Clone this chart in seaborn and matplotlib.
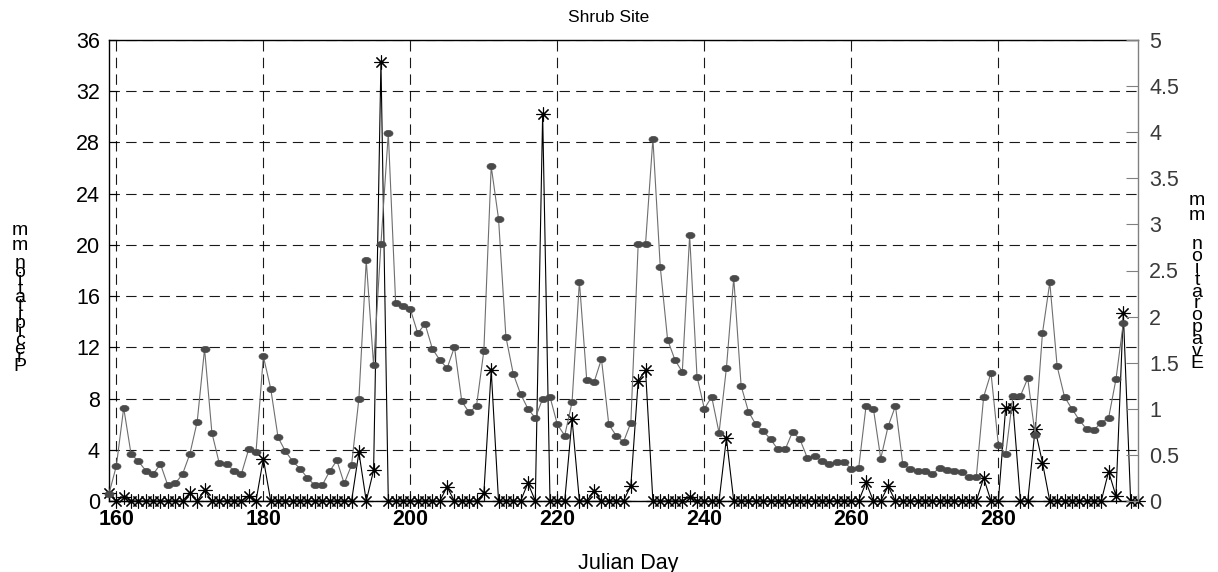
import matplotlib
matplotlib.use("Agg")
import matplotlib.pyplot as plt
import seaborn as sns
from matplotlib.path import Path
from matplotlib.transforms import Affine2D

# ---- data -------------------------------------------------------------
precip_days = list(range(159, 300))
precip_mm = [
    0.6, 0.0, 0.35, 0, 0, 0, 0, 0, 0, 0, 0,      # 159-169
    0.65, 0, 0.85, 0, 0, 0, 0, 0, 0.4, 0,        # 170-179
    3.3, 0, 0, 0, 0, 0, 0, 0, 0, 0,              # 180-189
    0, 0, 0, 3.8, 0, 2.4, 34.3, 0, 0, 0,         # 190-199
    0, 0, 0, 0, 0, 1.1, 0, 0, 0, 0,              # 200-209
    0.6, 10.2, 0, 0, 0, 0, 1.4, 0, 30.2, 0,      # 210-219
    0, 0, 6.4, 0, 0, 0.8, 0, 0, 0, 0,            # 220-229
    1.2, 9.4, 10.2, 0, 0, 0, 0, 0, 0.3, 0,       # 230-239
    0, 0, 0, 4.9, 0, 0, 0, 0, 0, 0,              # 240-249
    0, 0, 0, 0, 0, 0, 0, 0, 0, 0,                # 250-259
    0, 0, 1.45, 0, 0, 1.15, 0, 0, 0, 0,          # 260-269
    0, 0, 0, 0, 0, 0, 0, 0, 1.8, 0,              # 270-279
    0, 7.3, 7.3, 0, 0, 5.6, 3.0, 0, 0, 0,        # 280-289
    0, 0, 0, 0, 0, 2.3, 0.4, 14.7, 0, 0,         # 290-299
]

evap_days = list(range(159, 298))
evap_mm = [
    0.08, 0.38, 1.01, 0.51, 0.43, 0.33, 0.29, 0.40, 0.17, 0.19, 0.29,  # 159-169
    0.51, 0.86, 1.65, 0.74, 0.41, 0.40, 0.33, 0.29, 0.56, 0.53,        # 170-179
    1.57, 1.22, 0.69, 0.54, 0.43, 0.35, 0.25, 0.17, 0.17, 0.32,        # 180-189
    0.44, 0.19, 0.39, 1.11, 2.61, 1.47, 2.79, 3.99, 2.15, 2.11,        # 190-199
    2.08, 1.82, 1.92, 1.65, 1.53, 1.44, 1.67, 1.08, 0.96, 1.03,        # 200-209
    1.63, 3.63, 3.06, 1.78, 1.38, 1.16, 1.00, 0.90, 1.11, 1.13,        # 210-219
    0.83, 0.71, 1.07, 2.38, 1.31, 1.29, 1.54, 0.83, 0.71, 0.64,        # 220-229
    0.85, 2.79, 2.79, 3.93, 2.54, 1.75, 1.53, 1.40, 2.88, 1.35,        # 230-239
    1.00, 1.13, 0.74, 1.44, 2.42, 1.25, 0.97, 0.83, 0.76, 0.67,        # 240-249
    0.56, 0.56, 0.75, 0.67, 0.47, 0.49, 0.43, 0.40, 0.42, 0.42,        # 250-259
    0.35, 0.36, 1.03, 1.00, 0.46, 0.81, 1.03, 0.40, 0.35, 0.33,        # 260-269
    0.33, 0.29, 0.36, 0.34, 0.33, 0.31, 0.26, 0.26, 1.13, 1.39,        # 270-279
    0.61, 0.51, 1.14, 1.14, 1.33, 0.72, 1.82, 2.37, 1.46, 1.13,        # 280-289
    1.00, 0.88, 0.78, 0.77, 0.85, 0.90, 1.32, 1.93,                    # 290-297
]

x_ticks = [160, 180, 200, 220, 240, 260, 280]
left_ticks = [0, 4, 8, 12, 16, 20, 24, 28, 32, 36]
right_ticks = [0, 0.5, 1, 1.5, 2, 2.5, 3, 3.5, 4, 4.5, 5]
right_tick_labels = ["0", "0.5", "1", "1.5", "2", "2.5", "3", "3.5", "4", "4.5", "5"]

title = "Shrub Site"
x_label = "Julian Day"
left_label = "Precipitation mm"
right_label = "Evaporation mm"

# ---- style ------------------------------------------------------------
sns.set_theme(style="white")
plt.rcParams["font.family"] = ["Liberation Sans", "DejaVu Sans"]
plt.rcParams["lines.scale_dashes"] = False

W, H, DPI = 1218, 572, 100
fig = plt.figure(figsize=(W / DPI, H / DPI), dpi=DPI)
fig.patch.set_facecolor("white")

left_px, right_px, top_px, bottom_px = 109, 1138, 40, 501
ax = fig.add_axes([left_px / W, 1 - bottom_px / H,
                   (right_px - left_px) / W, (bottom_px - top_px) / H])
ax.set_facecolor("white")

# flattened dot marker and an eight-armed asterisk
dot = Path.unit_circle().transformed(Affine2D().scale(1.45, 1.0))
asterisk = (8, 2, 0)

# precipitation on the left axis
sns.lineplot(x=precip_days, y=precip_mm, ax=ax, color="black", linewidth=0.8,
             marker=asterisk, markersize=10, markeredgewidth=0.8,
             markeredgecolor="black", clip_on=False, errorbar=None, zorder=4)

ax.set_xlim(159, 299)
ax.set_ylim(0, 36)
ax.set_xticks(x_ticks)
ax.set_yticks(left_ticks)
ax.set_xticklabels([str(t) for t in x_ticks], fontsize=15.5, fontweight="bold")
ax.set_yticklabels([str(t) for t in left_ticks], fontsize=15.5)
ax.tick_params(axis="both", direction="in", length=6, width=0.8,
               colors="black")
ax.tick_params(axis="y", pad=6.5)
ax.tick_params(axis="x", pad=5.5)
ax.grid(True, color="black", linestyle=(0, (7.5, 4.5)), linewidth=0.8, alpha=0.9)
ax.set_xlabel("")
ax.set_ylabel("")
for side in ["left", "bottom", "top"]:
    ax.spines[side].set_color("black")
    ax.spines[side].set_linewidth(1.0)
ax.spines["right"].set_visible(False)

# evaporation on the right axis
ax2 = ax.twinx()
sns.lineplot(x=evap_days, y=evap_mm, ax=ax2, color="#6e6e6e", linewidth=0.8,
             marker=dot, markersize=6.5, markeredgewidth=0.5,
             markeredgecolor="#4a4a4a", markerfacecolor="#4a4a4a",
             clip_on=False, errorbar=None, zorder=3)
ax2.set_ylim(0, 5)
ax2.set_xlim(159, 299)
ax2.set_yticks(right_ticks)
ax2.set_yticklabels(right_tick_labels, fontsize=15.5, color="#3a3a3a")
ax2.tick_params(axis="y", direction="in", length=9, width=0.8,
                colors="#808080", labelcolor="#3a3a3a", pad=8)
ax2.grid(False)
ax2.set_ylabel("")
ax2.set_xlabel("")
for side in ["left", "bottom", "top"]:
    ax2.spines[side].set_visible(False)
ax2.spines["right"].set_color("#808080")
ax2.spines["right"].set_linewidth(1.0)

# title and x label
fig.text(609 / W, 1 - 17 / H, title,
         ha="center", va="center", fontsize=12.5, color="black")
fig.text(628 / W, 1 - 563 / H, x_label,
         ha="center", va="center", fontsize=15.5, color="black")


def stacked_label(text, x_px, unit_center_px, word_center_px,
                  unit_spacing, word_spacing, size=14):
    """Axis label drawn as upright glyphs stacked from bottom to top."""
    word, unit = text.split(" ")
    fig.text(x_px / W, 1 - unit_center_px / H, "\n".join(reversed(unit)),
             ha="center", va="center", multialignment="center",
             fontsize=size, linespacing=unit_spacing, color="black")
    fig.text(x_px / W, 1 - word_center_px / H, "\n".join(reversed(word)),
             ha="center", va="center", multialignment="center",
             fontsize=size, linespacing=word_spacing, color="black")


stacked_label(left_label, 20, 238, 315, 0.8, 0.35)
stacked_label(right_label, 1197, 208, 304, 0.8, 0.61)

fig.savefig("out.png", dpi=DPI, facecolor="white")
